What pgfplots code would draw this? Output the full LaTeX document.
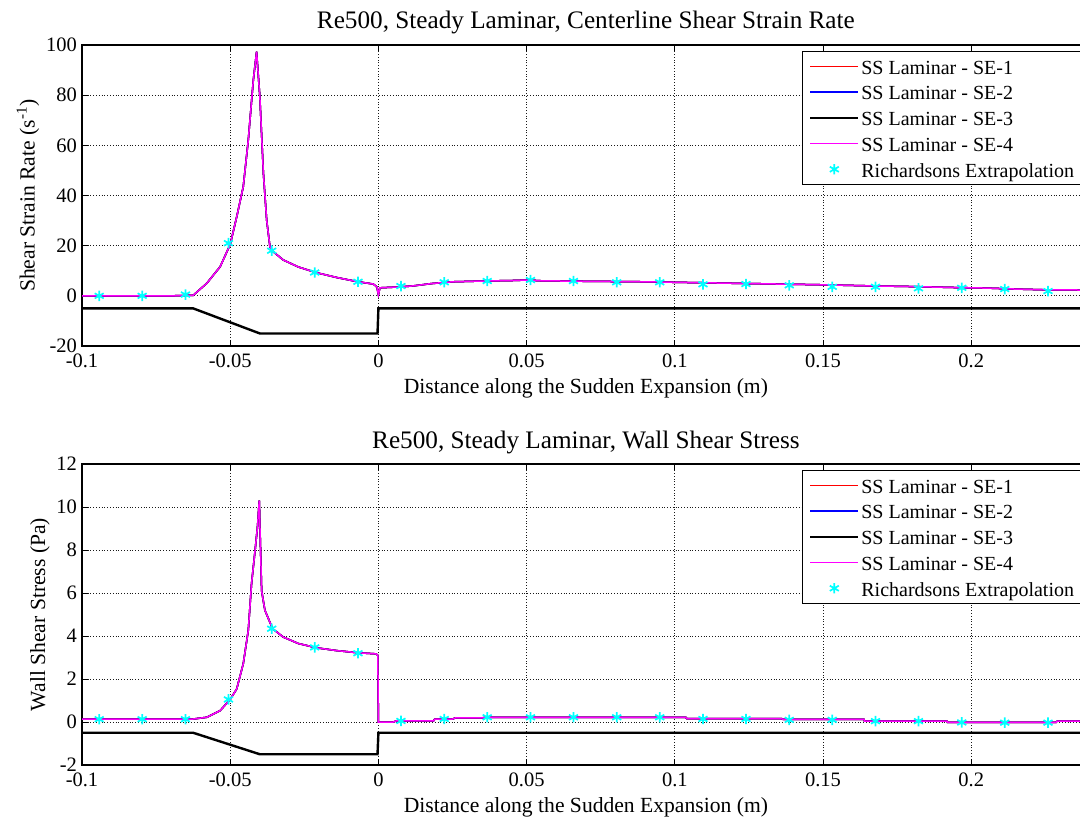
\documentclass[border=0pt]{standalone}
\usepackage{fontspec}
\setmainfont{Liberation Serif}
\usepackage{pgfplots}
\usepackage{pgfplotstable}
\pgfplotsset{compat=1.18}
\definecolor{mred}{rgb}{1,0,0}
\definecolor{mblue}{rgb}{0,0,1}
\definecolor{mmag}{rgb}{1,0,1}
\definecolor{mcyan}{rgb}{0,1,1}

\pgfplotstableread{
x y
-0.1 0
-0.07 0
-0.0625 0.2
-0.0579 5.0
-0.0534 11.6
-0.05 20.5
-0.0478 31.5
-0.0456 43.5
-0.0439 62.1
-0.0422 86
-0.0411 97.3
-0.0400 79.4
-0.0388 48.8
-0.0377 30.2
-0.0366 19.6
-0.0357 17.8
-0.0321 14.3
-0.027 11.5
-0.0208 9.2
-0.014 7.3
-0.0068 5.6
-0.0017 4.7
-0.0005 3.5
0 0.5
0.0005 3.2
0.008 3.6
0.012 4.0
0.018 4.9
0.025 5.6
0.035 5.9
0.045 6.1
0.05 6.3
0.055 6.0
0.07 5.8
0.09 5.6
0.1 5.4
0.115 5.1
0.13 4.8
0.15 4.4
0.165 4.0
0.18 3.7
0.195 3.3
0.205 3.1
0.215 2.7
0.225 2.4
0.24 2.3
}\toptab

\pgfplotstableread{
x y
-0.0942 0
-0.0797 0
-0.0651 0.5
-0.0506 21
-0.0360 18
-0.0215 9.3
-0.0069 5.6
0.0076 3.9
0.0222 5.4
0.0367 5.9
0.0513 6.3
0.0658 5.9
0.0804 5.4
0.0949 5.4
0.1095 4.6
0.1240 4.7
0.1386 4.2
0.1531 3.6
0.1677 3.6
0.1822 3.0
0.1968 3.2
0.2113 2.7
0.2259 1.9
}\topstar

\pgfplotstableread{
x y
-0.1 -5
-0.0625 -5
-0.0400 -15
-0.0003 -15
0 -5
0.24 -5
}\topgeo

\pgfplotstableread{
x y
-0.1 0.13
-0.063 0.13
-0.0579 0.22
-0.0534 0.53
-0.05 1.05
-0.0478 1.54
-0.0456 2.71
-0.0439 4.26
-0.0428 6.44
-0.0416 7.99
-0.0408 9.08
-0.0402 10.3
-0.0396 7.2
-0.0394 6.1
-0.0383 5.2
-0.0357 4.34
-0.0321 3.95
-0.027 3.65
-0.0208 3.45
-0.014 3.32
-0.0068 3.22
-0.0008 3.17
-0.0002 3.1
0 0.0
0.005 0.0
0.006 0.05
0.0186 0.05
0.019 0.14
0.025 0.14
0.026 0.19
0.035 0.19
0.036 0.22
0.1037 0.22
0.104 0.16
0.136 0.16
0.1365 0.12
0.1638 0.12
0.164 0.04
0.1918 0.04
0.192 -0.02
0.2286 -0.02
0.229 0.04
0.24 0.04
}\bottab

\pgfplotstableread{
x y
-0.0942 0.13
-0.0797 0.13
-0.0651 0.13
-0.0506 1.05
-0.0360 4.34
-0.0215 3.47
-0.0069 3.2
0.0076 0.05
0.0222 0.14
0.0367 0.22
0.0513 0.22
0.0658 0.22
0.0804 0.22
0.0949 0.22
0.1095 0.14
0.1240 0.14
0.1386 0.1
0.1531 0.1
0.1677 0.04
0.1822 0.04
0.1968 -0.02
0.2113 -0.03
0.2259 -0.03
}\botstar

\pgfplotstableread{
x y
-0.1 -0.5
-0.0625 -0.5
-0.0400 -1.5
-0.0003 -1.5
0 -0.5
0.24 -0.5
}\botgeo

\pgfplotsset{
  mystyle/.style={
    scale only axis, width=503.9pt, height=150.5pt,
    xmin=-0.1, xmax=0.24,
    xtick={-0.1,-0.05,0,0.05,0.1,0.15,0.2},
    xticklabels={-0.1,-0.05,0,0.05,0.1,0.15,0.2},
    tick align=inside, major tick length=3pt,
    grid=major, grid style={densely dotted, black!90, line width=0.45pt},
    axis line style={line width=0.6pt},
    tick style={black, line width=0.4pt},
    ticklabel style={font=\fontsize{10.25}{12}\selectfont},
    xticklabel style={anchor=base, yshift=-10.6pt},
    yticklabel style={anchor=east, inner sep=0pt, xshift=-2.35pt},
    label style={font=\fontsize{10.8}{13}\selectfont},
    xlabel style={at={(axis description cs:0.5,0)}, anchor=base, yshift=-23.5pt},
    title style={font=\fontsize{12.6}{15}\selectfont},
    xlabel={Distance along the Sudden Expansion (m)},
    legend cell align=left,
    legend style={at={(axis description cs:0.7141,0.98)}, anchor=north west,
      draw=black, line width=0.6pt, font=\fontsize{10}{12}\selectfont,
      inner xsep=3.65pt, inner ysep=1pt, row sep=0pt, column sep=0.15pt,
      nodes={inner sep=1pt, text height=9.3pt, text depth=1.55pt}},
    legend image code/.code={\draw[#1, line width=0.75pt] (0pt,0pt) -- (24pt,0pt);},
    every axis plot/.append style={line width=0.75pt},
  },
  starstyle/.style={only marks, mark=asterisk, mark size=2.6pt, color=mcyan, line width=0.85pt,
    legend image code/.code={\path[draw=none] (0pt,0pt) -- (24pt,0pt);
      \path[draw=mcyan, line width=0.85pt, mark=asterisk, mark size=2.6pt] plot[only marks] coordinates {(12pt,0pt)};}},
}

\begin{document}
\begin{tikzpicture}
\begin{axis}[mystyle, at={(41pt,-22.5pt)}, anchor=north west,
  ymin=-20, ymax=100, ytick={-20,0,20,40,60,80,100},
  yticklabels={-20,0,20,40,60,80,100},
  title={Re500, Steady Laminar, Centerline Shear Strain Rate},
  title style={at={(axis description cs:0.5,1)}, anchor=base, yshift=2.35pt},
  ylabel={Shear Strain Rate (s\textsuperscript{-1})},
  ylabel style={at={(axis description cs:-0.047,0.5)}, anchor=base}]
\addplot[black, line width=1.2pt, forget plot] table {\topgeo};
\addplot[mred] table {\toptab};
\addlegendentry{SS Laminar - SE-1}
\addplot[mblue] table {\toptab};
\addlegendentry{SS Laminar - SE-2}
\addplot[black] table {\toptab};
\addlegendentry{SS Laminar - SE-3}
\addplot[mmag] table {\toptab};
\addlegendentry{SS Laminar - SE-4}
\addplot[starstyle] table {\topstar};
\addlegendentry{Richardsons Extrapolation}
\end{axis}

\begin{axis}[mystyle, at={(41pt,-232pt)}, anchor=north west,
  ymin=-2, ymax=12, ytick={-2,0,2,4,6,8,10,12},
  yticklabels={-2,0,2,4,6,8,10,12},
  title={Re500, Steady Laminar, Wall Shear Stress},
  title style={at={(axis description cs:0.5,1)}, anchor=base, yshift=1.85pt},
  ylabel={Wall Shear Stress (Pa)},
  ylabel style={at={(axis description cs:-0.0367,0.5)}, anchor=base}]
\addplot[black, line width=1.2pt, forget plot] table {\botgeo};
\addplot[mred] table {\bottab};
\addlegendentry{SS Laminar - SE-1}
\addplot[mblue] table {\bottab};
\addlegendentry{SS Laminar - SE-2}
\addplot[black] table {\bottab};
\addlegendentry{SS Laminar - SE-3}
\addplot[mmag] table {\bottab};
\addlegendentry{SS Laminar - SE-4}
\addplot[starstyle] table {\botstar};
\addlegendentry{Richardsons Extrapolation}
\end{axis}
\pgfresetboundingbox
\path[use as bounding box] (0pt,0pt) rectangle (540pt,-409.5pt);
\end{tikzpicture}
\end{document}
